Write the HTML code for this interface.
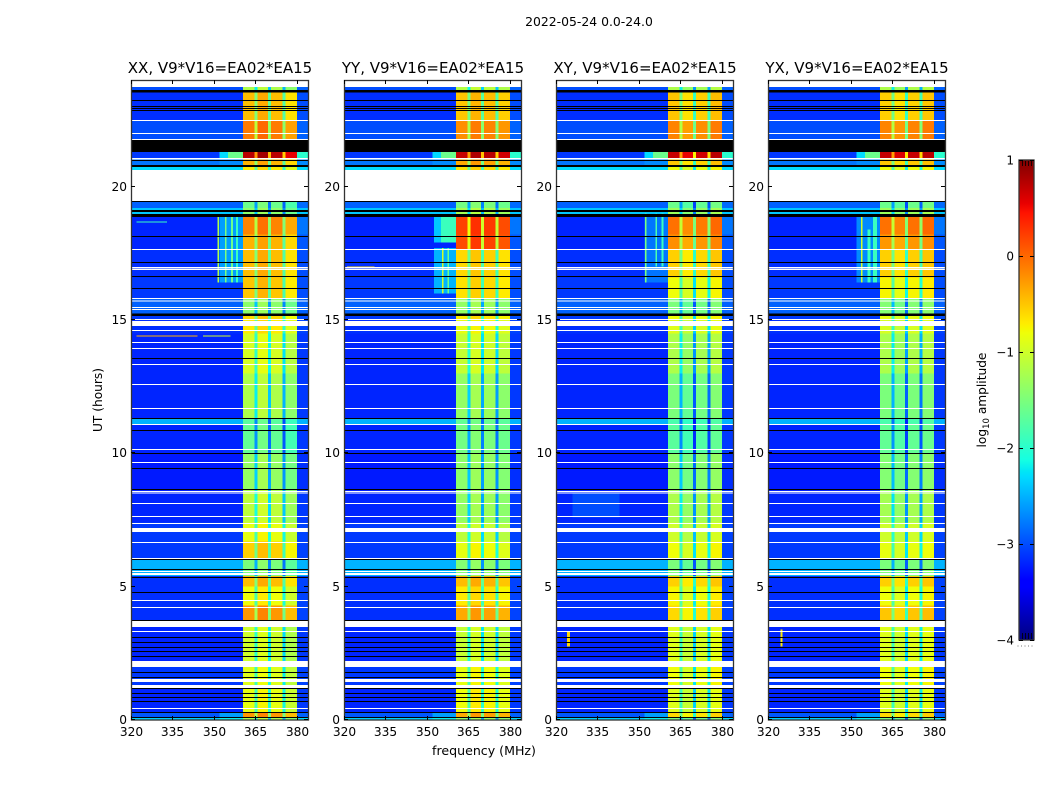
<!DOCTYPE html>
<html lang="en">
<head>
<meta charset="utf-8">
<title>2022-05-24 amplitude waterfall</title>
<style>
html,body{margin:0;padding:0;background:#fff;width:1050px;height:800px;overflow:hidden}
svg{display:block}
text{font-family:"DejaVu Sans","Liberation Sans",sans-serif;fill:#000}
</style>
</head>
<body>
<svg id="chart" xmlns="http://www.w3.org/2000/svg" width="1050" height="800" viewBox="0 0 1050 800">
  <defs>
    <linearGradient id="jet" x1="0" y1="1" x2="0" y2="0"></linearGradient>
  </defs>
  <text x="589" y="26" text-anchor="middle" font-size="12.4">2022-05-24 0.0-24.0</text>
  <text x="484" y="755" text-anchor="middle" font-size="12.6">frequency (MHz)</text>
  <text x="102" y="400" text-anchor="middle" font-size="12.2" transform="rotate(-90 102 400)">UT (hours)</text>
  <g id="panels"></g>
  <g id="colorbar"></g>
  <text x="986" y="400" text-anchor="middle" font-size="12.2" transform="rotate(-90 986 400)">log<tspan font-size="8.5" dy="3">10</tspan><tspan dy="-3"> amplitude</tspan></text>
</svg>
<script>
const panelNames = ['XX', 'YY', 'XY', 'YX'];
const xTickValues = [320, 335, 350, 365, 380];
const yTickValues = [0, 5, 10, 15, 20];
const colorTickValues = [1, 0, -1, -2, -3, -4];

// UT where each time block starts (last entry closes the final block)
const blockStarts = [0, 0.11, 0.26, 1.2, 2, 3.5, 4.3, 5, 5.4, 6, 6.7, 7.4, 8.6, 10, 11.1, 11.3, 13, 14.5, 15, 15.24, 15.8, 16.6, 17.62, 18.2, 18.9, 19.2, 19.46, 20.63, 20.8, 21.02, 21.3, 21.79, 22.5, 23.54, 24];
// log10 amplitude of each part of the spectrum, one value per block
const lowBand  = [-2.35, -2.95, -3.2, -3.1, -3.2, -3.15, -3.15, -3.15, -2.5, -3.1, -3.1, -3.2, -3.25, -3.2, -2.5, -3.2, -3.2, -3.15, -3.1, -2.9, -3.1, -3.15, -3.2, -3.2, -2.4, -2.9, -3, -2.3, -2.8, -3.1, -3, -3, -3.15, -3];
const skirtBand= [-2.2, -2.6, -3.2, -3.1, -3.2, -3.15, -3.15, -3.15, -2.5, -3.1, -3.1, -3.2, -3.25, -3.2, -2.5, -3.2, -3.2, -3.15, -3.1, -2.9, -3.1, -3.15, -3.2, -3.2, -2.4, -2.9, -3, -2.3, -2.7, -1.6, -3, -3, -3.15, -3];
const tailBand = [-2.3, -2.9, -3.1, -3.05, -3.1, -3.05, -3.05, -3.05, -2.5, -3.05, -3.05, -3.1, -3.15, -3.1, -2.5, -3.1, -3.1, -3.05, -3, -2.9, -3, -3, -2.95, -2.8, -2.4, -2.85, -3, -2.3, -2.7, -2, -3, -2.9, -3, -2.9];
const bandXX = [-1.2, -0.25, -0.85, -0.9, -1, -0.25, -0.8, -0.45, -1.5, -0.55, -0.85, -1.1, -1.35, -1.65, -1.7, -1.2, -0.95, -0.7, -0.6, -1.4, -0.5, -0.45, -0.4, -0.15, -1.4, -1.6, -2, -0.7, -0.4, 0.75, -1, -0.1, -0.45, -1.2];
const bandYY = [-1.3, -0.3, -0.75, -0.8, -1, -0.3, -0.65, -0.4, -1.4, -0.8, -1.05, -1.3, -1.35, -1.5, -1.6, -1.3, -1, -0.8, -0.65, -1.3, -0.6, -0.55, 0.2, 0.25, -1.2, -1.5, -2, -0.6, -0.3, 0.75, -1, -0.15, -0.45, -1.1];
const bandXY = [-1.5, -0.6, -0.9, -0.8, -0.9, -0.6, -0.75, -0.55, -1.5, -0.8, -1, -1.2, -1.4, -1.7, -1.8, -1.5, -1.2, -0.9, -0.8, -1.5, -0.8, -0.55, -0.2, -0.05, -1.3, -1.6, -2, -0.8, -0.5, 0.7, -1, -0.15, -0.5, -1.2];
const bandYX = [-1.5, -0.6, -0.9, -0.8, -0.9, -0.5, -0.8, -0.55, -1.5, -0.85, -1, -1.25, -1.45, -1.65, -1.8, -1.5, -1.2, -0.95, -0.85, -1.45, -0.75, -0.55, -0.25, -0.05, -1.3, -1.6, -2, -0.8, -0.5, 0.7, -1, -0.15, -0.55, -1.2];
const blockLevels = [bandXX, bandYY, bandXY, bandYX];
// Offset of each of the four sub-bands relative to the panel level
const subbandXX = [0, 0.1, 0, -0.2];
const subbandYY = [-0.05, 0.05, 0, -0.1];
const subbandXY = [0, -0.15, -0.05, 0.05];
const subbandYX = [0, -0.1, 0, 0.05];
const subbandOffsets = [subbandXX, subbandYY, subbandXY, subbandYX];
const gapDrop = [1.0, 1.3, 1.3];

// Frequency edges in MHz: low, skirt, A, gap, B, gap, C, gap, D, tail
const channelEdges = [320, 352, 360.5, 364.7, 365.7, 369.6, 370.6, 374.8, 375.8, 380, 384];

// Flagged time ranges in UT hours
const whiteFlags = [[23.74,24],[22.46,22.5],[21.98,22.01],[21.75,21.79],[21.02,21.08],[19.46,20.63],[17.62,17.66],[16.94,16.99],[16.87,16.91],[15.79,15.83],[15.69,15.73],[15.45,15.49],[15.38,15.41],[15,15.04],[14.78,14.96],[14.59,14.63],[14.14,14.18],[13.91,13.95],[13.31,13.35],[12.56,12.6],[11.66,11.7],[11.06,11.1],[10.13,10.16],[9.64,9.67],[8.55,8.59],[8.49,8.53],[8.1,8.14],[7.61,7.65],[7.35,7.39],[7.05,7.2],[6.64,6.68],[6.04,6.08],[5.55,5.59],[5.44,5.51],[4.46,4.5],[4.2,4.24],[3.49,3.71],[3.3,3.34],[1.99,2.21],[1.43,1.54],[1.2,1.31],[0.41,0.45]];
const blackFlags = [[23.54,23.63],[23.21,23.25],[22.99,23.02],[22.91,22.95],[22.84,22.88],[21.3,21.75],[20.96,21],[20.74,20.81],[19.43,19.46],[19.05,19.13],[18.86,18.98],[18.11,18.15],[17.14,17.18],[16.61,16.65],[16.16,16.2],[15.15,15.24],[13.54,13.58],[11.29,11.33],[10.84,10.88],[9.98,10.01],[9.41,9.45],[8.63,8.66],[6,6.04],[5.63,5.66],[5.33,5.36],[4.76,4.8],[3.71,3.75],[3.08,3.11],[2.89,2.93],[2.7,2.74],[2.55,2.59],[2.36,2.4],[1.76,1.8],[1.58,1.61],[1.16,1.2],[0.98,1.01],[0.83,0.86],[0.68,0.71],[0.26,0.3],[0.08,0.11]];

// Isolated interference features: panel index, f0, f1, ut0, ut1, log10 amplitude
const interference = [
  [0,352,360.5,16.4,18.9,-2.6],[0,351.2,351.9,16.4,18.9,-1.2],[0,354,354.6,16.4,18.9,-1.5],[0,356.2,356.8,16.4,18.9,-1.6],[0,358,358.6,16.4,18.9,-1.9],
  [0,322,344,14.38,14.42,-0.4],[0,346,356,14.38,14.42,-1],[0,322,333,18.66,18.7,-1.9],
  [0,352,355,21.08,21.3,-2.3],[1,352,355,21.08,21.3,-2.3],[2,352,355,21.08,21.3,-2.3],[3,352,355,21.08,21.3,-2.3],
  [1,352.5,355,17.9,18.9,-2.4],[1,355,360.5,17.9,18.9,-1.9],[1,352.5,360.5,16,17.7,-2.5],[1,355.5,356,16,17.7,-1],[1,357.5,358,16,17.7,-1.6],[1,321,331,16.96,17,-0.6],
  [2,352,360.5,16.4,18.9,-2.8],[2,352.2,352.8,16.4,19,-1.5],[2,356,356.6,17,19,-1.8],[2,358.2,358.8,17,19,-1.9],[2,326,343,7.6,8.5,-3],[2,324,325,2.75,3.3,-0.6],
  [3,352,360.5,16.4,18.9,-2.7],[3,353.6,354.2,16.4,18.9,-1],[3,356,357,16.4,18.4,-1.9],[3,358,359.5,16.4,18.9,-1.9],[3,324.5,325.3,2.75,3.4,-0.7]
];

const panelLefts = [131, 344, 556, 768];
const NS = 'http://www.w3.org/2000/svg';
const PANEL_W = 177, AX_TOP = 80, AX_BOTTOM = 720;
const F_MIN = 320, F_MAX = 384, UT_MAX = 24, V_MIN = -4, V_MAX = 1;

function xScale(left, mhz) { return left + (mhz - F_MIN) / (F_MAX - F_MIN) * PANEL_W; }
function yScale(ut) { return AX_BOTTOM - ut / UT_MAX * (AX_BOTTOM - AX_TOP); }
function vScale(v) { return 640 - (v - V_MIN) / (V_MAX - V_MIN) * 480; }

function seg(stops, t) {
  for (let i = 1; i < stops.length; i++) {
    if (t <= stops[i][0]) {
      const a = stops[i - 1], b = stops[i];
      return a[1] + (b[1] - a[1]) * (t - a[0]) / (b[0] - a[0]);
    }
  }
  return stops[stops.length - 1][1];
}
const jetR = [[0,0],[0.35,0],[0.66,1],[0.89,1],[1,0.5]];
const jetG = [[0,0],[0.125,0],[0.375,1],[0.64,1],[0.91,0],[1,0]];
const jetB = [[0,0.5],[0.11,1],[0.34,1],[0.65,0],[1,0]];
function jet(t) {
  t = Math.max(0, Math.min(1, t));
  return 'rgb(' + Math.round(seg(jetR, t) * 255) + ',' + Math.round(seg(jetG, t) * 255) + ',' + Math.round(seg(jetB, t) * 255) + ')';
}
function colorOf(v) { return jet((v - V_MIN) / (V_MAX - V_MIN)); }

function make(tag, attrs, parent) {
  const el = document.createElementNS(NS, tag);
  for (const k in attrs) el.setAttribute(k, attrs[k]);
  parent.appendChild(el);
  return el;
}

function columnLevel(panel, block, col) {
  const level = blockLevels[panel][block];
  const off = subbandOffsets[panel];
  switch (col) {
    case 0: return lowBand[block];
    case 1: return skirtBand[block];
    case 2: return level + off[0];
    case 3: return level + off[0] - gapDrop[0];
    case 4: return level + off[1];
    case 5: return level + off[1] - gapDrop[1];
    case 6: return level + off[2];
    case 7: return level + off[2] - gapDrop[2];
    case 8: return level + off[3];
    default: return tailBand[block];
  }
}

const panelsRoot = document.getElementById('panels');
panelNames.forEach(function (name, p) {
  const left = panelLefts[p];
  const g = make('g', {}, panelsRoot);
  
  

  const title = make('text', { x: left + PANEL_W / 2 + 0.5, y: 73, 'text-anchor': 'middle', 'font-size': 15 }, g);
  
  
  title.textContent = name + ', V9*V16=EA02*EA15';

  const cells = make('g', { 'shape-rendering': 'crispEdges' }, g);
  
  

  for (let b = 0; b < blockStarts.length - 1; b++) {
    for (let c = 0; c < channelEdges.length - 1; c++) {
      const x0 = xScale(left, channelEdges[c]), x1 = xScale(left, channelEdges[c + 1]);
      const y0 = yScale(blockStarts[b + 1]), y1 = yScale(blockStarts[b]);
      const cell = make('rect', { x: x0, y: y0, width: x1 - x0, height: y1 - y0, fill: colorOf(columnLevel(p, b, c)) }, cells);
      
      
    }
  }
  interference.filter(function (r) { return r[0] === p; }).forEach(function (r) {
    const x0 = xScale(left, r[1]), x1 = xScale(left, r[2]);
    const y0 = yScale(r[4]), y1 = yScale(r[3]);
    const line = make('rect', { x: x0, y: y0, width: x1 - x0, height: y1 - y0, fill: colorOf(r[5]) }, cells);
    
    
  });
  blackFlags.forEach(function (r) {
    const y0 = yScale(r[1]), y1 = yScale(r[0]);
    const flag = make('rect', { x: left, y: y0, width: PANEL_W, height: y1 - y0, fill: '#000' }, cells);
    
    
  });
  whiteFlags.forEach(function (r) {
    const y0 = yScale(r[1]), y1 = yScale(r[0]);
    const flag = make('rect', { x: left, y: y0, width: PANEL_W, height: y1 - y0, fill: '#fff' }, cells);
    
    
  });

  const frame = make('rect', { x: left + 0.5, y: AX_TOP + 0.5, width: PANEL_W, height: AX_BOTTOM - AX_TOP - 0.5, fill: 'none', stroke: '#333', 'stroke-width': 1.3 }, g);
  
  

  xTickValues.forEach(function (v) {
    const x = Math.round(xScale(left, v)) + 0.5;
    const bottomTick = make('line', { x1: x, x2: x, y1: AX_BOTTOM, y2: AX_BOTTOM - 4, stroke: '#000' }, g);
    
    
    const topTick = make('line', { x1: x, x2: x, y1: AX_TOP, y2: AX_TOP + 4, stroke: '#000' }, g);
    
    
    const label = make('text', { x: x, y: 736, 'text-anchor': 'middle', 'font-size': 12.2 }, g);
    
    
    label.textContent = v;
  });
  yTickValues.forEach(function (v) {
    const y = Math.round(yScale(v)) - 0.5;
    const leftTick = make('line', { x1: left, x2: left + 4, y1: y, y2: y, stroke: '#000' }, g);
    
    
    const rightTick = make('line', { x1: left + PANEL_W, x2: left + PANEL_W - 4, y1: y, y2: y, stroke: '#000' }, g);
    
    
    const label = make('text', { x: left - 4, y: y + 4.5, 'text-anchor': 'end', 'font-size': 12.2 }, g);
    
    
    label.textContent = v;
  });
});

// Colorbar
const grad = document.getElementById('jet');
const gradStops = [0, 0.11, 0.125, 0.34, 0.35, 0.375, 0.64, 0.65, 0.66, 0.89, 0.91, 1];
gradStops.forEach(function (t) {
  make('stop', { offset: t, 'stop-color': jet(t) }, grad);
});
const cbRoot = document.getElementById('colorbar');
const CB_L = 1019, CB_R = 1034;
const cbBar = make('rect', { x: CB_L, y: vScale(V_MAX), width: CB_R - CB_L, height: vScale(V_MIN) - vScale(V_MAX), fill: 'url(#jet)', stroke: '#333', 'stroke-width': 1.3 }, cbRoot);


colorTickValues.forEach(function (v) {
  const y = Math.round(vScale(v)) + 0.5;
  const l = make('line', { x1: CB_L, x2: CB_L + 4, y1: y, y2: y, stroke: '#000' }, cbRoot);
  
  
  const r = make('line', { x1: CB_R, x2: CB_R - 4, y1: y, y2: y, stroke: '#000' }, cbRoot);
  
  
  const label = make('text', { x: 1014, y: y + 4, 'text-anchor': 'end', 'font-size': 12 }, cbRoot);
  
  
  label.textContent = v < 0 ? '\u2212' + Math.abs(v) : String(v);
});
const cbMinorTicks = [1022.5, 1025.5, 1028.5, 1031.5];
cbMinorTicks.forEach(function (x) {
  const top = make('line', { x1: x, x2: x, y1: 161, y2: 166, stroke: '#000', 'stroke-width': 0.8 }, cbRoot);
  
  
  const bottom = make('line', { x1: x, x2: x, y1: 633, y2: 639, stroke: '#000', 'stroke-width': 0.8 }, cbRoot);
  
  
});
const cbDots = make('line', { x1: 1017.5, x2: 1035, y1: 646, y2: 646, stroke: '#777', 'stroke-width': 1, 'stroke-dasharray': '1 2.5' }, cbRoot);


</script>
</body>
</html>
